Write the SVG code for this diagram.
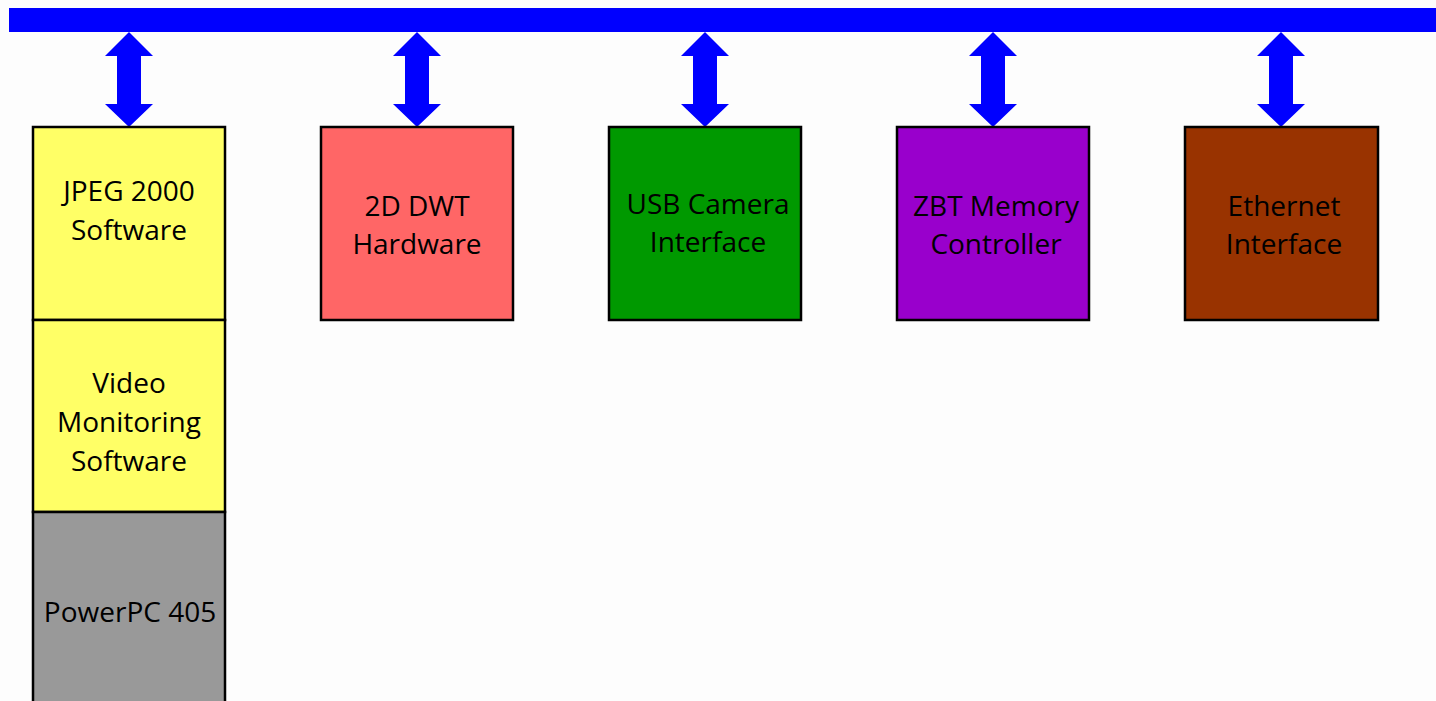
<svg xmlns="http://www.w3.org/2000/svg" width="1436" height="701" viewBox="0 0 1436 701">
  <defs>
    <!-- double-headed bus arrow, centred on x=0, from y=32 to y=127 -->
    <polygon id="busArrow" points="0,32 24,56 12,56 12,104 24,104 0,127 -24,104 -12,104 -12,56 -24,56"/>
  </defs>
  <style>
    .bus { fill: #0000FF; }
    .box { stroke: #000000; stroke-width: 2.5; }
    .lbl { font-family: "Open Sans", "Liberation Sans", sans-serif; font-size: 28px; fill: #000000; text-anchor: middle; }
  </style>
  <rect width="1436" height="701" fill="#FDFDFD"/>

  <!-- system bus -->
  <rect id="bus" class="bus" x="9" y="8" width="1427" height="24"/>

  <g id="connectors" class="bus">
    <use href="#busArrow" x="129"/>
    <use href="#busArrow" x="417"/>
    <use href="#busArrow" x="705"/>
    <use href="#busArrow" x="993"/>
    <use href="#busArrow" x="1281"/>
  </g>

  <g id="jpeg2000">
    <rect class="box" x="33" y="127" width="192" height="193" fill="#FFFF66"/>
    <text class="lbl" x="129" y="201">JPEG 2000</text>
    <text class="lbl" x="129" y="240">Software</text>
  </g>
  <g id="video">
    <rect class="box" x="33" y="320" width="192" height="192" fill="#FFFF66"/>
    <text class="lbl" x="129" y="393">Video</text>
    <text class="lbl" x="129" y="432">Monitoring</text>
    <text class="lbl" x="129" y="471">Software</text>
  </g>
  <g id="powerpc">
    <rect class="box" x="33" y="512" width="192" height="200" fill="#999999"/>
    <text class="lbl" x="130" y="622">PowerPC 405</text>
  </g>
  <g id="dwt">
    <rect class="box" x="321" y="127" width="192" height="193" fill="#FF6666"/>
    <text class="lbl" x="417" y="216">2D DWT</text>
    <text class="lbl" x="417" y="254">Hardware</text>
  </g>
  <g id="usb">
    <rect class="box" x="609" y="127" width="192" height="193" fill="#009900"/>
    <text class="lbl" x="708" y="214">USB Camera</text>
    <text class="lbl" x="708" y="252">Interface</text>
  </g>
  <g id="zbt">
    <rect class="box" x="897" y="127" width="192" height="193" fill="#9900CC"/>
    <text class="lbl" x="996" y="216">ZBT Memory</text>
    <text class="lbl" x="996" y="254">Controller</text>
  </g>
  <g id="ethernet">
    <rect class="box" x="1185" y="127" width="193" height="193" fill="#993300"/>
    <text class="lbl" x="1284" y="216">Ethernet</text>
    <text class="lbl" x="1284" y="254">Interface</text>
  </g>
</svg>
